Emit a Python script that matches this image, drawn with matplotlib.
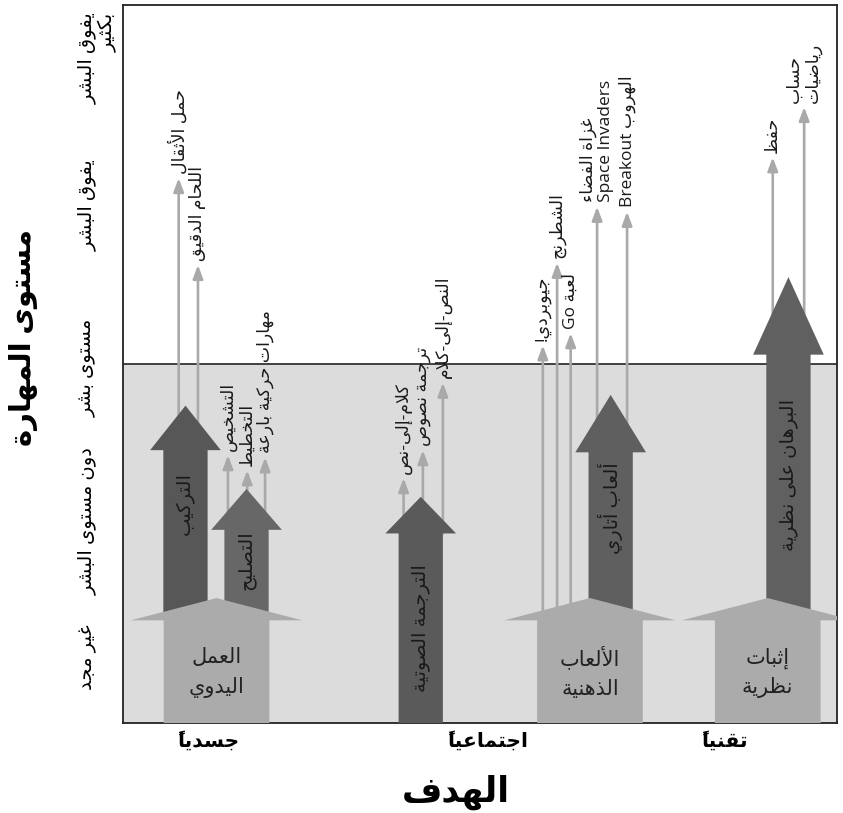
import re
import matplotlib
matplotlib.use("Agg")
import matplotlib.pyplot as plt
from matplotlib import patches

plt.rcParams['font.family'] = ['Open Sans', 'DejaVu Sans']

# ---------------- Arabic shaping + simple bidi (matplotlib has none) -------------
_FOUR = {'\u0626': 0xFE89, '\u0628': 0xFE8F, '\u062A': 0xFE95, '\u062B': 0xFE99,
         '\u062C': 0xFE9D, '\u062D': 0xFEA1, '\u062E': 0xFEA5, '\u0633': 0xFEB1,
         '\u0634': 0xFEB5, '\u0635': 0xFEB9, '\u0636': 0xFEBD, '\u0637': 0xFEC1,
         '\u0638': 0xFEC5, '\u0639': 0xFEC9, '\u063A': 0xFECD, '\u0641': 0xFED1,
         '\u0642': 0xFED5, '\u0643': 0xFED9, '\u0644': 0xFEDD, '\u0645': 0xFEE1,
         '\u0646': 0xFEE5, '\u0647': 0xFEE9, '\u064A': 0xFEF1}
_TWO = {'\u0622': 0xFE81, '\u0623': 0xFE83, '\u0624': 0xFE85, '\u0625': 0xFE87,
        '\u0627': 0xFE8D, '\u0629': 0xFE93, '\u062F': 0xFEA9, '\u0630': 0xFEAB,
        '\u0631': 0xFEAD, '\u0632': 0xFEAF, '\u0648': 0xFEED, '\u0649': 0xFEEF}
_ONE = {'\u0621': 0xFE80}
_LAMALEF = {'\u0622': 0xFEF5, '\u0623': 0xFEF7, '\u0625': 0xFEF9, '\u0627': 0xFEFB}


def _is_mark(c):
    return '\u064B' <= c <= '\u0652' or c == '\u0670'


def _shape(s):
    res, i, n = [], 0, len(s)
    while i < n:
        c = s[i]
        if c not in _FOUR and c not in _TWO and c not in _ONE:
            res.append(c)
            i += 1
            continue
        j = i - 1
        while j >= 0 and _is_mark(s[j]):
            j -= 1
        p = s[j] if j >= 0 else None
        k = i + 1
        while k < n and _is_mark(s[k]):
            k += 1
        nx = s[k] if k < n else None
        jp = p is not None and p in _FOUR and c not in _ONE
        if c == '\u0644' and nx in _LAMALEF:
            res.append(chr(_LAMALEF[nx] + (1 if jp else 0)))
            res.extend(s[i + 1:k])
            i = k + 1
            continue
        jn = nx is not None and c in _FOUR and (nx in _FOUR or nx in _TWO)
        if c in _ONE:
            res.append(chr(_ONE[c]))
        elif c in _TWO:
            res.append(chr(_TWO[c] + (1 if jp else 0)))
        else:
            b = _FOUR[c]
            res.append(chr(b + 3 if (jp and jn) else b + 1 if jp else b + 2 if jn else b))
        i += 1
    return ''.join(res)


def ar(text):
    out = []
    for line in text.split('\n'):
        parts = re.split(r'([A-Za-z0-9]+(?: [A-Za-z0-9]+)*)', _shape(line))
        vis = [p if k % 2 else p[::-1] for k, p in enumerate(parts)]
        out.append(''.join(reversed(vis)))
    return '\n'.join(out)


# ---------------- data ----------------
goal_labels = ['جسدياً', 'اجتماعياً', 'تقنياً']
goal_pos = [12.0, 51.1, 84.2]

level_labels = ['غير مجد', 'دون مستوى البشر', 'مستوى بشر', 'يفوق البشر', 'يفوق البشر\nبكثير']
level_values = [9.2, 28.1, 49.4, 72.1, 92.6]
human_level = 50.0

base_labels = ['العمل\nاليدوي', 'الألعاب\nالذهنية', 'إثبات\nنظرية']
base_tips = [17.4, 17.4, 17.4]

main_labels = ['التركيب', 'التصليح', 'الترجمة الصوتية', 'ألعاب أتاري', 'البرهان على نظرية']
main_tips = [44.2, 32.6, 31.5, 45.7, 62.1]
main_parent = [0, 0, None, 1, 2]          # index into base arrows

thin_labels = ['حمل الأثقال', 'اللحام الدقيق',
               'التشخيص', 'التخطيط', 'مهارات حركية بارعة',
               'كلام-إلى-نص', 'ترجمة نصوص', 'النص-إلى-كلام',
               'جيوبردي!', 'الشطرنج', 'لعبة Go',
               'غزاة الفضاء\nSpace Invaders', 'الهروب Breakout',
               'حفظ', 'حساب\nرياضيات']
thin_tips = [75.9, 63.8, 37.3, 35.2, 37.0, 34.1, 38.0, 47.4,
             52.6, 64.1, 54.3, 71.9, 71.2, 78.8, 85.8]
thin_parent = [('m', 0), ('m', 0), ('m', 1), ('m', 1), ('m', 1),
               ('m', 2), ('m', 2), ('m', 2), ('b', 1), ('b', 1), ('b', 1),
               ('m', 3), ('m', 3), ('m', 4), ('m', 4)]

# ---------------- layout / style ----------------
base_x = [13.1, 65.4, 90.3]
main_x = [8.75, 17.3, 41.7, 68.3, 93.2]
thin_x = [7.8, 10.5, 14.7, 17.4, 19.9, 39.3, 42.0, 44.8,
          58.8, 60.8, 62.7, 66.4, 70.6, 91.0, 95.4]
main_head_len = [6.2, 5.7, 5.1, 8.0, 10.8]
main_colors = ['#575757', '#676767', '#5a5a5a', '#5f5f5f', '#606060']
main_label_y = [30.6, 22.7, 13.2, 29.9, 34.6]
base_head_len = 3.1
base_color = '#ababab'
thin_color = '#a9a9a9'
bg_gray = '#dcdcdc'

fig = plt.figure(figsize=(8.43, 8.13), dpi=100)
ax = fig.add_axes([123 / 843, 90 / 813, 714 / 843, 718 / 813])
ax.set_xlim(0, 100)
ax.set_ylim(0, 100)

ax.axhspan(0, human_level, color=bg_gray, lw=0, zorder=0)
ax.axhline(human_level, color='#333333', lw=1.3, zorder=1)

# base (light) arrows
for x, tip, lab in zip(base_x, base_tips, base_labels):
    ax.add_patch(patches.FancyArrow(x, 0, 0, tip, width=14.8, head_width=24,
                                    head_length=base_head_len, length_includes_head=True,
                                    color=base_color, lw=0, zorder=4))
    ax.text(x, 7.0, ar(lab), ha='center', va='center', fontsize=15,
            linespacing=1.55, color='#222222', zorder=6)

# main (dark) arrows
for x, tip, par, hl, col, lab, ly in zip(main_x, main_tips, main_parent, main_head_len,
                                         main_colors, main_labels, main_label_y):
    y0 = 0 if par is None else base_tips[par] - base_head_len
    ax.add_patch(patches.FancyArrow(x, y0, 0, tip - y0, width=6.2, head_width=9.9,
                                    head_length=hl, length_includes_head=True,
                                    color=col, lw=0, zorder=3))
    ax.text(x, ly, ar(lab), rotation=90, ha='center', va='center', fontsize=14,
            color='#1a1a1a', zorder=6)

# thin arrows
for x, tip, (kind, idx), lab in zip(thin_x, thin_tips, thin_parent, thin_labels):
    if kind == 'm':
        y0 = main_tips[idx] - main_head_len[idx]
    else:
        y0 = base_tips[idx] - base_head_len
    ax.annotate('', xy=(x, tip), xytext=(x, y0),
                arrowprops=dict(arrowstyle='-|>,head_length=0.8,head_width=0.3',
                                color=thin_color, lw=1.9, shrinkA=0, shrinkB=0),
                zorder=2)
    ax.text(x, tip + 0.6, ar(lab), rotation=90, ha='center', va='bottom', fontsize=12.5,
            multialignment='left', linespacing=1.1, color='#1a1a1a', zorder=6)

for s in ax.spines.values():
    s.set_linewidth(1.3)
    s.set_color('#222222')

ax.set_xticks(goal_pos, [ar(g) for g in goal_labels], fontsize=14.5, fontweight='bold')
ax.set_yticks(level_values, [ar(l) for l in level_labels], fontsize=14, rotation=90,
              va='center', multialignment='right', linespacing=1.1)
ax.tick_params(axis='x', length=0, pad=6)
ax.tick_params(axis='y', length=0, pad=32)
for t in ax.get_yticklabels():
    t.set_horizontalalignment('left')

fig.text(24 / 843, 1 - 337 / 813, ar('مستوى المهارة'), rotation=90, ha='center',
         va='center', fontsize=21, fontweight='bold')
fig.text(456 / 843, 1 - 793 / 813, ar('الهدف'), ha='center', va='center',
         fontsize=25, fontweight='bold')

fig.savefig('out.png', dpi=100)
